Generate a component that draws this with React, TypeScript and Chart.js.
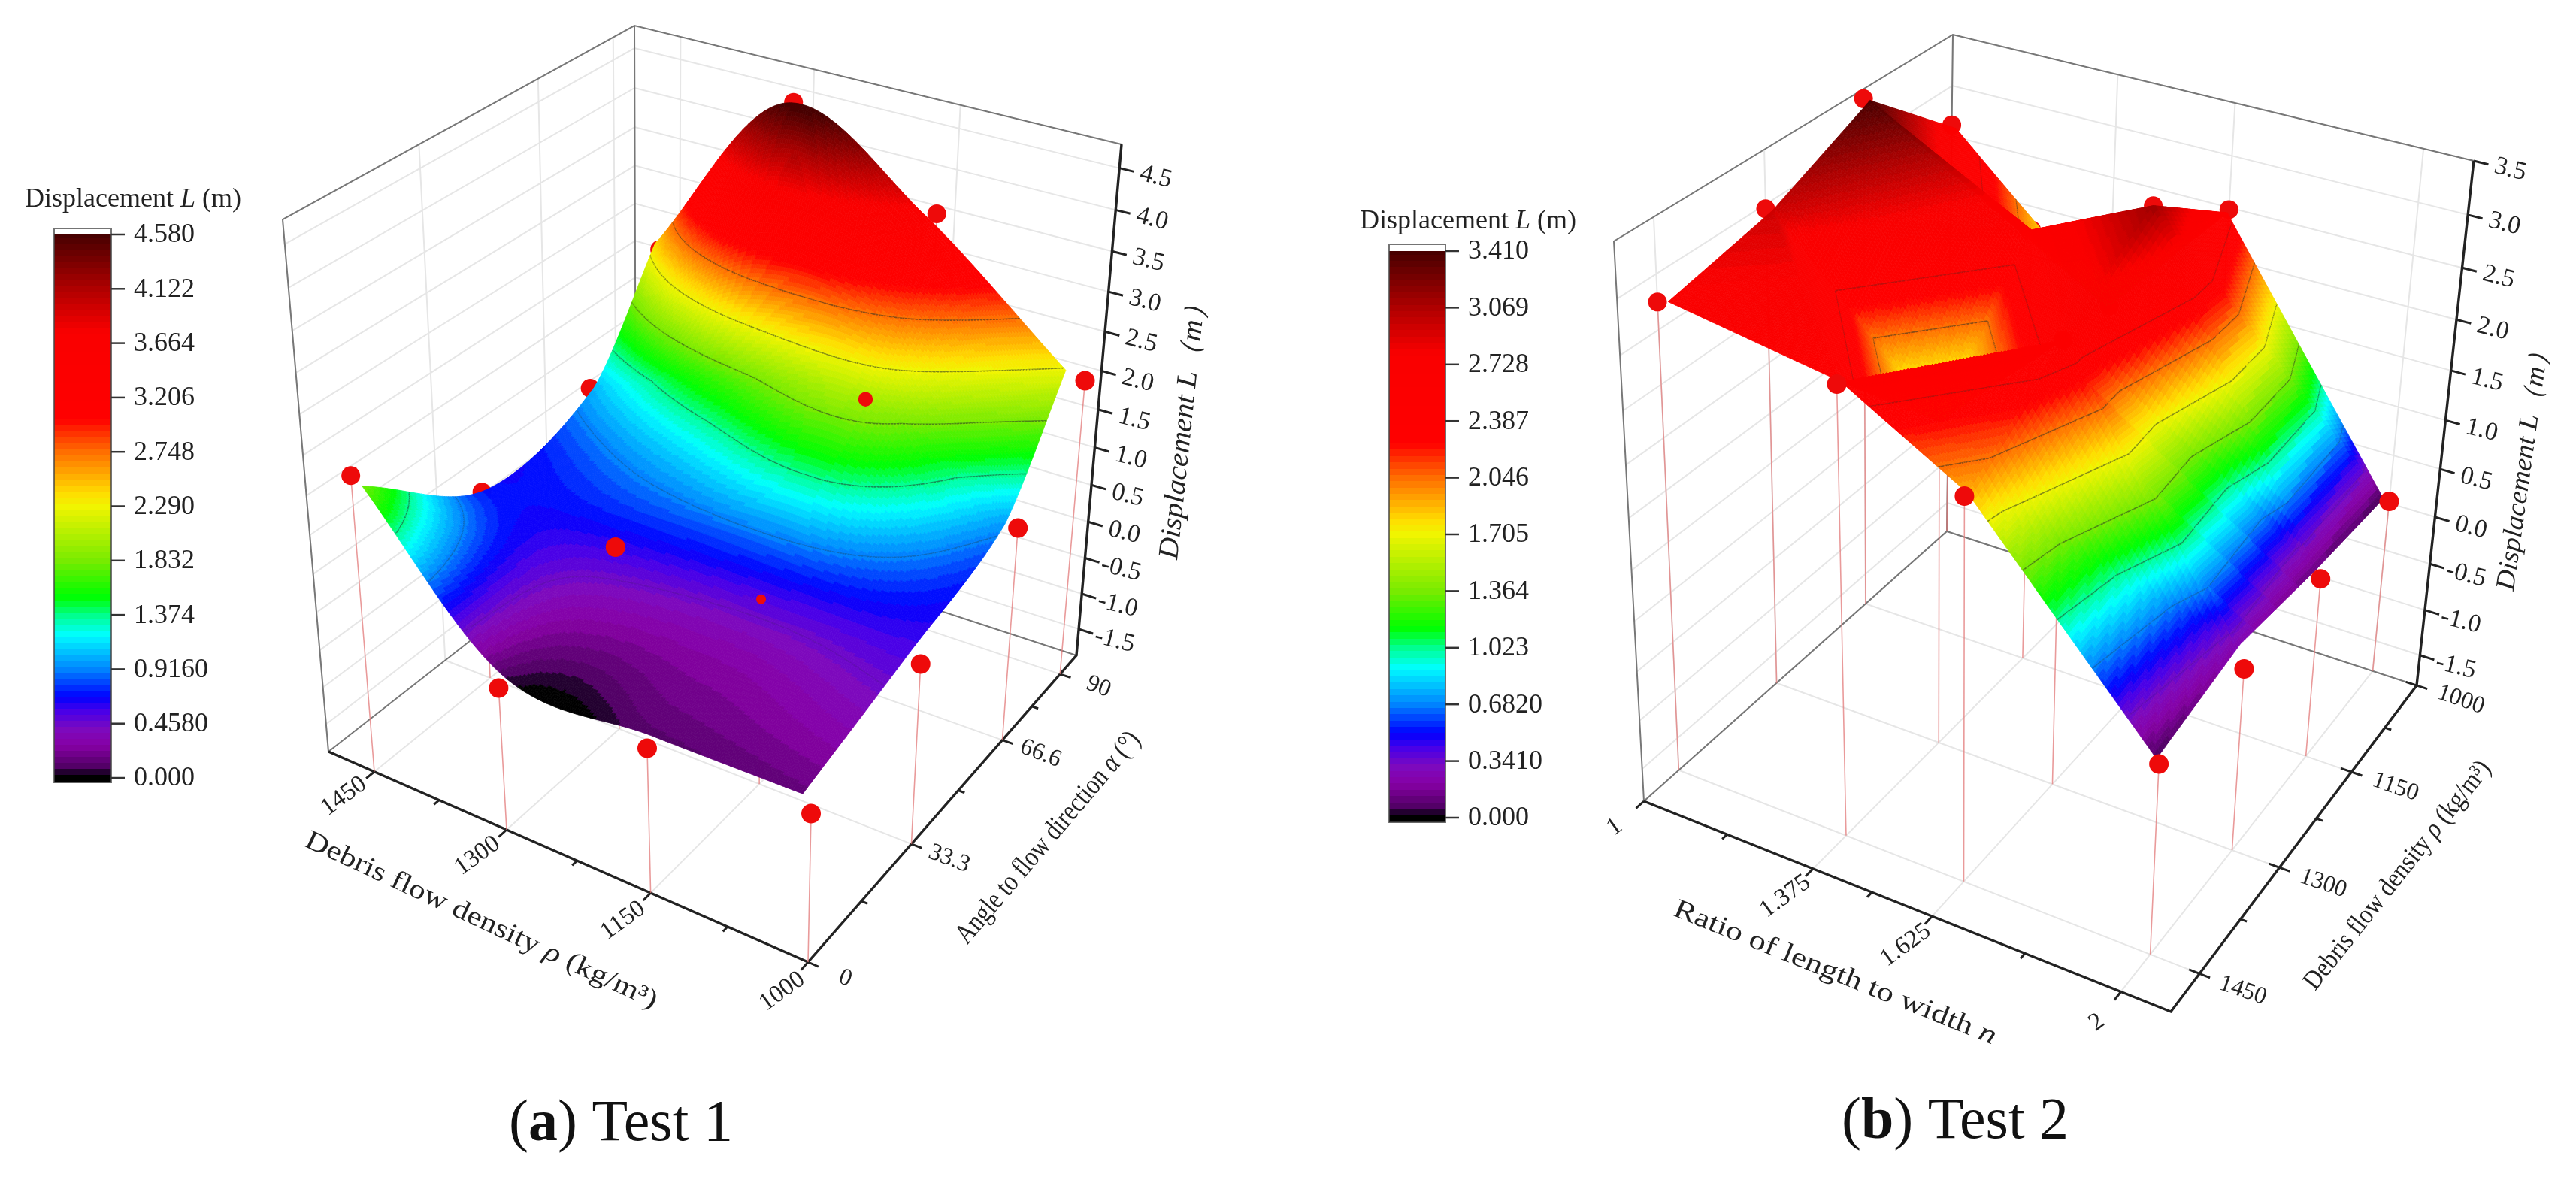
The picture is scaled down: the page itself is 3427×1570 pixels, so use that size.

import React, { useEffect, useRef } from "react";
import { Chart, registerables } from "chart.js";
Chart.register(...registerables);

// ---------- data ----------
const RHO_A = [1000, 1150, 1300, 1450];
const ALPHA_A = [0, 33.3, 66.6, 90];
// rows: density, columns: angle
const POINTS_A = [
  [0.05, 0.5, 0.98, 2.09],
  [0.02, 0.59, 2.0, 3.64],
  [0.0, 0.58, 1.95, 4.54],
  [1.98, 0.67, 1.02, 2.23],
];
const SURFACE_A = [
  [0.16, 0.55, 0.98, 2.27],
  [0.11, 0.52, 2.0, 3.66],
  [0.09, 0.62, 1.7, 4.6],
  [1.82, 0.72, 1.05, 2.4],
];
const SURF_RHO_A = [1012, 1150, 1300, 1445];
const SURF_ALPHA_A = [1.5, 33.3, 66.6, 87];

const N_B = [1, 1.375, 1.625, 2];
const RHO_B = [1450, 1300, 1150, 1000];
const POINTS_B = [
  [2.75, 2.96, 3.41, 2.61],
  [2.53, 1.7, 2.6, 1.2],
  [1.9, 2.56, 3.13, 2.48],
  [0.05, 0.02, 0.04, 0.02],
];
const SURFACE_B = [
  [2.75, 2.96, 3.41, 2.6],
  [2.53, 1.45, 2.6, 1.2],
  [1.9, 2.56, 3.13, 2.46],
  [0.05, 0.25, 0.12, 0.05],
];
// which diagonal splits each surface cell: 0 joins (i,j)-(i+1,j+1), 1 joins (i+1,j)-(i,j+1)
const DIAGONALS_B = [
  [1, 0, 0],
  [0, 1, 0],
  [0, 0, 0],
];
const SURF_N_B = [1.015, 1.375, 1.625, 1.99];
const SURF_RHO_B = [1445, 1300, 1150, 1003];

const Z_TICKS_A = [-1.5, -1, -0.5, 0, 0.5, 1, 1.5, 2, 2.5, 3, 3.5, 4, 4.5];
const Z_TICKS_B = [-1.5, -1, -0.5, 0, 0.5, 1, 1.5, 2, 2.5, 3, 3.5];
const RHO_TICK_LABELS = ["1450", "1300", "1150", "1000"];
const ALPHA_TICK_LABELS = ["0", "33.3", "66.6", "90"];
const N_TICK_LABELS = ["1", "1.375", "1.625", "2"];
const BAR_LABELS_A = ["4.580", "4.122", "3.664", "3.206", "2.748", "2.290", "1.832", "1.374", "0.9160", "0.4580", "0.000"];
const BAR_LABELS_B = ["3.410", "3.069", "2.728", "2.387", "2.046", "1.705", "1.364", "1.023", "0.6820", "0.3410", "0.000"];
const MAX_A = 4.58;
const MAX_B = 3.41;

// colour ramp stops: fraction of the scale, r, g, b
const RAMP: number[][] = [
  [0, 0, 0, 0], [0.008, 20, 0, 30], [0.02, 80, 0, 100], [0.06, 135, 0, 165], [0.09, 125, 10, 190],
  [0.125, 70, 0, 235], [0.15, 0, 0, 255], [0.2, 0, 130, 255], [0.265, 0, 255, 255], [0.3, 0, 255, 145],
  [0.335, 0, 255, 0], [0.4, 120, 235, 0], [0.5, 240, 245, 0], [0.525, 255, 222, 0], [0.6, 255, 110, 0],
  [0.64, 255, 40, 0], [0.66, 255, 0, 0], [0.82, 250, 0, 0], [0.9, 175, 0, 0], [1, 72, 0, 0],
];
const LEVELS = 90;
function rampColor(f: number): string {
  if (f <= 0) return "rgb(0,0,0)";
  const q = Math.min(1, Math.round(f * LEVELS) / LEVELS);
  for (let i = 1; i < RAMP.length; i++) {
    if (q <= RAMP[i][0]) {
      const a = RAMP[i - 1], b = RAMP[i];
      const k = (q - a[0]) / (b[0] - a[0]);
      return `rgb(${a[1] + (b[1] - a[1]) * k | 0},${a[2] + (b[2] - a[2]) * k | 0},${a[3] + (b[3] - a[3]) * k | 0})`;
    }
  }
  return "rgb(72,0,0)";
}

type P = { x: number; y: number };
function homography(p0: number[], p1: number[], p2: number[], p3: number[]) {
  const dx1 = p1[0] - p2[0], dx2 = p3[0] - p2[0], sx = p0[0] - p1[0] + p2[0] - p3[0];
  const dy1 = p1[1] - p2[1], dy2 = p3[1] - p2[1], sy = p0[1] - p1[1] + p2[1] - p3[1];
  const det = dx1 * dy2 - dx2 * dy1;
  const g = (sx * dy2 - dx2 * sy) / det, h = (dx1 * sy - sx * dy1) / det;
  const a = p1[0] - p0[0] + g * p1[0], b = p3[0] - p0[0] + h * p3[0];
  const d = p1[1] - p0[1] + g * p1[1], e = p3[1] - p0[1] + h * p3[1];
  return (s: number, t: number) => {
    const w = g * s + h * t + 1;
    return [(a * s + b * t + p0[0]) / w, (d * s + e * t + p0[1]) / w];
  };
}

function makeProjector(floor: number[][], top: number[][], zMin: number, zMax: number) {
  const h0 = homography(floor[0], floor[1], floor[2], floor[3]);
  const h1 = homography(top[0], top[1], top[2], top[3]);
  const W = 0.9;
  return (s: number, t: number, z: number): P => {
    const w = (z - zMin) / (zMax - zMin);
    const a = h0(s, t), b = h1(s, t);
    const d = 1 - w + w * W;
    return { x: ((1 - w) * a[0] + w * W * b[0]) / d, y: ((1 - w) * a[1] + w * W * b[1]) / d };
  };
}

function sample(grid: number[][], u: number, v: number, diag: number[][] | null): number {
  const n = grid.length - 1, m = grid[0].length - 1;
  const i = Math.min(n - 1, Math.floor(u)), j = Math.min(m - 1, Math.floor(v));
  const fu = u - i, fv = v - j;
  if (diag) {
    const a = grid[i][j], b = grid[i + 1][j], c = grid[i + 1][j + 1], d = grid[i][j + 1];
    if (diag[i][j] === 0) {
      return fu >= fv ? a + fu * (b - a) + fv * (c - b) : a + fv * (d - a) + fu * (c - d);
    }
    return fu + fv <= 1 ? a + fu * (b - a) + fv * (d - a) : c + (1 - fu) * (d - c) + (1 - fv) * (b - c);
  }
  const at = (a: number, b: number) => {
    const ca = Math.max(0, Math.min(n, a)), cb = Math.max(0, Math.min(m, b));
    let val = grid[ca][cb];
    if (a < 0) val += grid[0][cb] - grid[1][cb];
    if (a > n) val += grid[n][cb] - grid[n - 1][cb];
    if (b < 0) val += grid[ca][0] - grid[ca][1];
    if (b > m) val += grid[ca][m] - grid[ca][m - 1];
    return val;
  };
  const cr = (p0: number, p1: number, p2: number, p3: number, x: number) =>
    p1 + 0.5 * x * (p2 - p0 + x * (2 * p0 - 5 * p1 + 4 * p2 - p3 + x * (3 * (p1 - p2) + p3 - p0)));
  const row = (a: number) => cr(at(a, j - 1), at(a, j), at(a, j + 1), at(a, j + 2), fv);
  return cr(row(i - 1), row(i), row(i + 1), row(i + 2), fu);
}

function along(arr: number[], u: number) {
  const i = Math.min(arr.length - 2, Math.floor(u));
  return arr[i] + (arr[i + 1] - arr[i]) * (u - i);
}

type Panel = {
  proj: (s: number, t: number, z: number) => P;
  S: (a: number) => number; T: (b: number) => number;
  axisA: number[]; axisB: number[]; points: number[][]; surface: number[][];
  surfA: number[]; surfB: number[]; max: number; diag: number[][] | null;
  farS: number; frontS: number; zMin: number; zMax: number; zTicks: number[];
  sMinor: number[]; tMinor: number[]; topContour: number; tTickBoth: boolean; tLabelDist: number;
};

const panelA: Panel = {
  proj: makeProjector([[1075, 1280], [437, 1000], [846, 680], [1432, 872]], [[1090, 545], [376, 292], [844, 34], [1492, 192]], -1.88, 4.78),
  S: (r) => (r - 1000) / 505, T: (a) => a / 97,
  axisA: RHO_A, axisB: ALPHA_A, points: POINTS_A, surface: SURFACE_A, surfA: SURF_RHO_A, surfB: SURF_ALPHA_A,
  max: MAX_A, diag: null, farS: 1, frontS: 0, zMin: -1.88, zMax: 4.78, zTicks: Z_TICKS_A,
  sMinor: [1075, 1225, 1375], tMinor: [16.65, 49.95, 78.3], topContour: 6, tTickBoth: false, tLabelDist: 54,
};
const panelB: Panel = {
  proj: makeProjector([[2187, 1066], [2888, 1346], [3215, 912], [2590, 707]], [[2147, 321], [2928, 569], [3291, 214], [2598, 46]], -1.84, 3.5),
  S: (n) => (n - 1) / 1.095, T: (r) => (1500 - r) / 500,
  axisA: N_B, axisB: RHO_B, points: POINTS_B, surface: SURFACE_B, surfA: SURF_N_B, surfB: SURF_RHO_B,
  max: MAX_B, diag: DIAGONALS_B, farS: 0, frontS: 1, zMin: -1.84, zMax: 3.5, zTicks: Z_TICKS_B,
  sMinor: [1.1875, 1.5, 1.8125], tMinor: [1375, 1225, 1075], topContour: 7, tTickBoth: true, tLabelDist: 62,
};

// which markers lie in front of the surface, and their visible size
const FRONT_A = [[1, 1, 1, 1], [1, 0.5, 0.75, 0], [1, 1, 0, 0], [0, 0, 0, 0]];
const FRONT_B = [[0, 0, 0, 0], [1, 0, 0, 0], [1, 0, 0, 0], [1, 1, 1, 1]];

const GAP = { x: NaN, y: NaN };
function buildLines(p: Panel) {
  const far = p.proj, grid: P[] = [], frame: P[] = [], axes: P[] = [], ticks: P[] = [], drops: P[] = [];
  const seg = (arr: P[], ...pts: P[]) => { arr.push(...pts, GAP); };
  const { zMin, zMax, farS, frontS } = p;
  const sVals = p.axisA.map(p.S), tVals = p.axisB.map(p.T);
  p.zTicks.forEach((z) => seg(grid, far(frontS, 1, z), far(farS, 1, z), far(farS, 0, z)));
  sVals.forEach((s) => seg(grid, far(s, 1, zMax), far(s, 1, zMin), far(s, 0, zMin)));
  tVals.forEach((t) => seg(grid, far(farS, t, zMax), far(farS, t, zMin), far(frontS, t, zMin)));
  seg(frame, far(farS, 0, zMin), far(farS, 0, zMax), far(farS, 1, zMax), far(frontS, 1, zMax));
  seg(frame, far(farS, 1, zMax), far(farS, 1, zMin));
  seg(frame, far(farS, 0, zMin), far(farS, 1, zMin), far(frontS, 1, zMin));
  seg(axes, far(farS, 0, zMin), far(frontS, 0, zMin), far(frontS, 1, zMin), far(frontS, 1, zMax));
  const tick = (a: P, b: P, len: number, back = 0) => {
    const dx = b.x - a.x, dy = b.y - a.y, d = Math.hypot(dx, dy);
    seg(ticks, { x: a.x - (dx / d) * back, y: a.y - (dy / d) * back }, { x: a.x + (dx / d) * len, y: a.y + (dy / d) * len });
  };
  const sDir = frontS === 0 ? -0.1 : 1.1;
  p.axisA.forEach((v) => tick(far(p.S(v), 0, zMin), far(p.S(v), -0.1, zMin), 14));
  p.sMinor.forEach((v) => tick(far(p.S(v), 0, zMin), far(p.S(v), -0.1, zMin), 9));
  p.axisB.forEach((v) => tick(far(frontS, p.T(v), zMin), far(sDir, p.T(v), zMin), 15, p.tTickBoth ? 15 : 0));
  p.tMinor.forEach((v) => tick(far(frontS, p.T(v), zMin), far(sDir, p.T(v), zMin), 9));
  p.zTicks.forEach((z) => tick(far(frontS, 1, z), far(sDir, 1, z), 20));
  p.points.forEach((row, i) => row.forEach((z, j) => {
    const s = p.S(p.axisA[i]), t = p.T(p.axisB[j]);
    seg(drops, far(s, t, z), far(s, t, zMin));
  }));
  return { grid, frame, axes, ticks, drops };
}

function markers(p: Panel, front: number[][]) {
  const back: P[] = [], fr: P[] = [], radii: number[] = [];
  p.points.forEach((row, i) => row.forEach((z, j) => {
    const pt = p.proj(p.S(p.axisA[i]), p.T(p.axisB[j]), z);
    if (front[i][j] > 0) { fr.push(pt); radii.push(13 * front[i][j]); } else back.push(pt);
  }));
  return { back, fr, radii };
}

function contourAlpha(k: number, top: number) {
  if (k === 1) return 0.15;
  if (k === 2) return 0.3;
  if (k >= 7 && k === top) return 0.3;
  return 0.55;
}

function drawSurface(ctx: CanvasRenderingContext2D, p: Panel, sx: (v: number) => number, sy: (v: number) => number) {
  const N = 192;
  const rows = p.surface.length - 1, cols = p.surface[0].length - 1;
  const zs: number[][] = [], xy: P[][] = [];
  for (let i = 0; i <= N; i++) {
    zs.push([]); xy.push([]);
    const u = (i / N) * rows, s = p.S(along(p.surfA, u));
    for (let j = 0; j <= N; j++) {
      const v = (j / N) * cols, t = p.T(along(p.surfB, v));
      const z = sample(p.surface, u, v, p.diag);
      zs[i].push(z);
      const q = p.proj(s, t, z);
      xy[i].push({ x: sx(q.x), y: sy(q.y) });
    }
  }
  const step = p.max / 10;
  const farI = p.farS === 1 ? N - 1 : 0, dI = p.farS === 1 ? -1 : 1;
  for (let a = 0, i = farI; a < N; a++, i += dI) {
    for (let b = 0, j = N - 1; b < N; b++, j--) {
      const q = [xy[i][j], xy[i + 1][j], xy[i + 1][j + 1], xy[i][j + 1]];
      const zq = [zs[i][j], zs[i + 1][j], zs[i + 1][j + 1], zs[i][j + 1]];
      const col = rampColor((zq[0] + zq[1] + zq[2] + zq[3]) / 4 / p.max);
      ctx.fillStyle = col; ctx.strokeStyle = col; ctx.lineWidth = 0.8;
      ctx.beginPath();
      ctx.moveTo(q[0].x, q[0].y); ctx.lineTo(q[1].x, q[1].y); ctx.lineTo(q[2].x, q[2].y); ctx.lineTo(q[3].x, q[3].y);
      ctx.closePath(); ctx.fill(); ctx.stroke();
      const lo = Math.min(zq[0], zq[1], zq[2], zq[3]), hi = Math.max(zq[0], zq[1], zq[2], zq[3]);
      for (let k = Math.ceil(lo / step); k * step <= hi; k++) {
        if (k <= 0 || k > p.topContour) continue;
        const L = k * step, cut: P[] = [];
        for (let e = 0; e < 4; e++) {
          const z0 = zq[e], z1 = zq[(e + 1) % 4];
          if ((z0 < L) !== (z1 < L)) {
            const f = (L - z0) / (z1 - z0), A = q[e], B = q[(e + 1) % 4];
            cut.push({ x: A.x + (B.x - A.x) * f, y: A.y + (B.y - A.y) * f });
          }
        }
        if (cut.length >= 2) {
          ctx.strokeStyle = `rgba(40,50,40,${contourAlpha(k, p.topContour)})`; ctx.lineWidth = 1.7;
          ctx.beginPath(); ctx.moveTo(cut[0].x, cut[0].y); ctx.lineTo(cut[1].x, cut[1].y); ctx.stroke();
        }
      }
    }
  }
}

type Run = { text: string; italic?: boolean; bold?: boolean };
const SERIF = '"Liberation Serif", "Noto Serif", serif';
function drawText(ctx: CanvasRenderingContext2D, runs: Run[], x: number, y: number, size: number, angle = 0, targetLen = 0, color = "#222") {
  const font = (r: Run) => `${r.italic ? "italic " : ""}${r.bold ? "bold " : ""}${size}px ${SERIF}`;
  let total = 0;
  runs.forEach((r) => { ctx.font = font(r); total += ctx.measureText(r.text).width; });
  const k = targetLen ? targetLen / total : 1;
  ctx.save();
  ctx.translate(x, y); ctx.rotate((angle * Math.PI) / 180); ctx.scale(k, 1);
  ctx.fillStyle = color; ctx.textBaseline = "middle"; ctx.textAlign = "left";
  let cx = -total / 2;
  runs.forEach((r) => { ctx.font = font(r); ctx.fillText(r.text, cx, 0); cx += ctx.measureText(r.text).width; });
  ctx.restore();
}

function drawColorBar(ctx: CanvasRenderingContext2D, left: number, right: number, boxTop: number, y1: number, y0: number, labels: string[], labelX: number) {
  const h = y0 - y1;
  for (let y = Math.floor(y1); y < y0 + 6; y++) {
    const f = (y0 - y) / h;
    ctx.fillStyle = rampColor(f);
    ctx.fillRect(left, y, right - left, 1.2);
  }
  ctx.strokeStyle = "rgba(70,70,70,0.75)"; ctx.lineWidth = 2;
  ctx.strokeRect(left, boxTop, right - left, y0 + 6 - boxTop);
  labels.forEach((l, i) => {
    const y = y1 + (h * i) / (labels.length - 1);
    ctx.strokeStyle = "#333"; ctx.lineWidth = 2.5;
    ctx.beginPath(); ctx.moveTo(right, y); ctx.lineTo(right + 18, y); ctx.stroke();
    ctx.fillStyle = "#222"; ctx.font = `36px ${SERIF}`; ctx.textAlign = "left"; ctx.textBaseline = "middle";
    ctx.fillText(l, labelX, y + 1);
  });
}

function axisLabels(ctx: CanvasRenderingContext2D, p: Panel, sLabels: string[], tLabels: string[], sAngle: number, tAngle: number) {
  const far = p.proj, sDir = p.frontS === 0 ? -0.1 : 1.1;
  const place = (a: P, b: P, dist: number) => {
    const dx = b.x - a.x, dy = b.y - a.y, d = Math.hypot(dx, dy);
    return { x: a.x + (dx / d) * dist, y: a.y + (dy / d) * dist };
  };
  p.axisA.forEach((v, i) => {
    const a = far(p.S(v), 0, p.zMin), q = place(a, far(p.S(v), -0.1, p.zMin), 52);
    const idx = p.frontS === 0 ? sLabels.length - 1 - i : i;
    drawText(ctx, [{ text: sLabels[idx] }], q.x, q.y, 33, sAngle);
  });
  p.axisB.forEach((v, i) => {
    const a = far(p.frontS, p.T(v), p.zMin), q = place(a, far(sDir, p.T(v), p.zMin), p.tLabelDist);
    drawText(ctx, [{ text: tLabels[i] }], q.x, q.y, 32, tAngle);
  });
  p.zTicks.forEach((z) => {
    const a = far(p.frontS, 1, z), q = place(a, far(sDir, 1, z), 50);
    drawText(ctx, [{ text: z.toFixed(1) }], q.x, q.y, 34, 14);
  });
}

const overlay = {
  id: "overlay",
  beforeDatasetDraw(chart: any, args: any) {
    const ds = chart.data.datasets[args.index];
    if (ds.label !== "Measured points (front)") return;
    const { ctx, scales } = chart;
    const sx = (v: number) => scales.x.getPixelForValue(v), sy = (v: number) => scales.y.getPixelForValue(v);
    drawSurface(ctx, panelA, sx, sy);
    drawSurface(ctx, panelB, sx, sy);
  },
  afterDraw(chart: any) {
    const ctx: CanvasRenderingContext2D = chart.ctx;
    ctx.save();
    drawColorBar(ctx, 72, 148, 304, 312, 1035, BAR_LABELS_A, 178);
    drawColorBar(ctx, 1848, 1923, 325, 334, 1088, BAR_LABELS_B, 1953);
    const barTitle = (x: number, y: number) =>
      drawText(ctx, [{ text: "Displacement " }, { text: "L", italic: true }, { text: " (m)" }], x, y, 36, 0, 288);
    barTitle(177, 266);
    barTitle(1953, 295);
    axisLabels(ctx, panelA, RHO_TICK_LABELS, ALPHA_TICK_LABELS, -36, 21);
    axisLabels(ctx, panelB, N_TICK_LABELS, RHO_TICK_LABELS, -36, 19);
    drawText(ctx, [{ text: "Debris flow density " }, { text: "ρ", italic: true }, { text: " (kg/m³)" }], 640, 1225, 36, 25, 513);
    drawText(ctx, [{ text: "Angle to flow direction " }, { text: "α", italic: true }, { text: " (°)" }], 1395, 1115, 38, -49.6, 358);
    drawText(ctx, [{ text: "Displacement L（m）", italic: true }], 1575, 565, 38, -84, 360);
    drawText(ctx, [{ text: "Ratio of length to width " }, { text: "n", italic: true }], 2441, 1295, 36, 22, 460);
    drawText(ctx, [{ text: "Debris flow density " }, { text: "ρ", italic: true }, { text: " (kg/m³)" }], 3190, 1165, 36, -51.6, 378);
    drawText(ctx, [{ text: "Displacement L（m）", italic: true }], 3358, 618, 36, -82, 338);
    drawText(ctx, [{ text: "(" }, { text: "a", bold: true }, { text: ") Test 1" }], 826, 1497, 78, 0, 0, "#111");
    drawText(ctx, [{ text: "(" }, { text: "b", bold: true }, { text: ") Test 2" }], 2601, 1494, 78, 0, 0, "#111");
    ctx.restore();
  },
};

export default function App() {
  const ref = useRef<HTMLCanvasElement>(null);
  useEffect(() => {
    document.body.style.margin = "0";
    const la = buildLines(panelA), lb = buildLines(panelB);
    const ma = markers(panelA, FRONT_A), mb = markers(panelB, FRONT_B);
    const line = (label: string, data: P[], color: string, width: number, order: number) => ({
      label, data, borderColor: color, borderWidth: width, showLine: true, pointRadius: 0, spanGaps: false, order, tension: 0,
    });
    const chart = new Chart(ref.current!, {
      type: "scatter",
      data: {
        datasets: [
          { label: "Measured points (front)", data: [...ma.fr, ...mb.fr], backgroundColor: "#ee0a0a", borderWidth: 0, pointRadius: [...ma.radii, ...mb.radii], order: 1 } as any,
          { label: "Measured points (back)", data: [...ma.back, ...mb.back], backgroundColor: "#ee0a0a", borderWidth: 0, pointRadius: 12.5, order: 2 } as any,
          line("Drop lines", [...la.drops, ...lb.drops], "rgba(225,120,120,0.75)", 1.6, 3),
          line("Ticks", [...la.ticks, ...lb.ticks], "#222", 3, 4),
          line("Axes", [...la.axes, ...lb.axes], "#222", 3.4, 5),
          line("Frame", [...la.frame, ...lb.frame], "#777", 2, 6),
          line("Grid", [...la.grid, ...lb.grid], "#e6e6e6", 2, 7),
        ],
      },
      options: {
        animation: false, responsive: false, maintainAspectRatio: false,
        layout: { padding: 0, autoPadding: false },
        plugins: { legend: { display: false }, tooltip: { enabled: false } },
        scales: {
          x: { type: "linear", min: 0, max: 3427, display: false },
          y: { type: "linear", min: 0, max: 1570, reverse: true, display: false },
        },
      },
      plugins: [overlay],
    });
    return () => chart.destroy();
  }, []);
  return (
    <div style={{ position: "absolute", left: 0, top: 0, width: 3427, height: 1570, background: "#fff" }}>
      <canvas ref={ref} width={3427} height={1570} style={{ display: "block", filter: "blur(0.7px)" }} />
    </div>
  );
}
